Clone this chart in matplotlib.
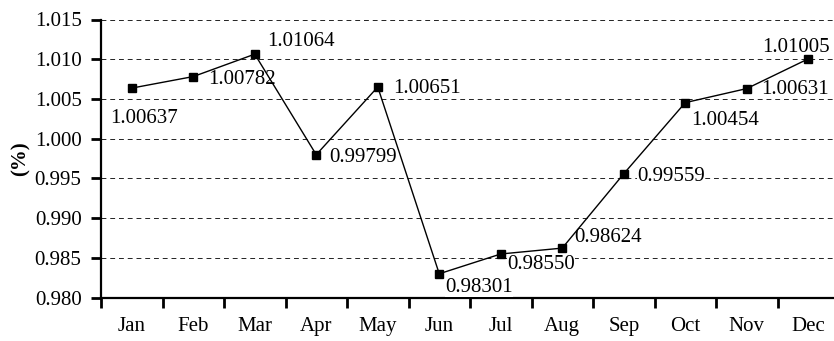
import matplotlib
matplotlib.use("Agg")
import matplotlib.pyplot as plt
import numpy as np

months = ["Jan", "Feb", "Mar", "Apr", "May", "Jun", "Jul", "Aug", "Sep", "Oct", "Nov", "Dec"]
values = [1.00637, 1.00782, 1.01064, 0.99799, 1.00651, 0.98301, 0.98550, 0.98624, 0.99559, 1.00454, 1.00631, 1.01005]
value_labels = ["1.00637", "1.00782", "1.01064", "0.99799", "1.00651", "0.98301", "0.98550", "0.98624", "0.99559", "1.00454", "1.00631", "1.01005"]
yticks = [0.980, 0.985, 0.990, 0.995, 1.000, 1.005, 1.010, 1.015]
ytick_labels = ["0.980", "0.985", "0.990", "0.995", "1.000", "1.005", "1.010", "1.015"]
y_label = "(%)"

# label offsets in pixels (dx, dy) from marker to left-center of text
offsets = [(-22, -30), (15, -3), (12, 13), (13, -3), (15, -2), (6, -14),
           (6, -11), (12, 11), (13, -3), (6, -18), (14, -1), (-46, 11)]

plt.rcParams['font.family'] = ['Liberation Serif', 'DejaVu Serif']
FS = 15

W, H = 834, 341
fig = plt.figure(figsize=(W / 100, H / 100), dpi=100)
left_px, right_px = 101, 839
top_px, bottom_px = 19.5, 297.7
ax = fig.add_axes([left_px / W, (H - bottom_px) / H, (right_px - left_px) / W, (bottom_px - top_px) / H])

x = np.arange(len(months))
ax.plot(x, values, color='black', lw=1.0, marker='s', markersize=5.5, zorder=4, clip_on=False)

for xi, v, lab, (dx, dy) in zip(x, values, value_labels, offsets):
    ax.annotate(lab, (xi, v), xytext=(dx, dy), textcoords='offset pixels',
                ha='left', va='center', fontsize=FS, zorder=3,
                bbox=dict(boxstyle='square,pad=0', fc='white', ec='none'),
                annotation_clip=False)

ax.set_xlim(-0.5, len(months) - 0.5)
ax.set_ylim(0.980, 1.015)
ax.set_yticks(yticks)
ax.set_yticklabels(ytick_labels, fontsize=FS)
ax.set_xticks(x)
ax.set_xticklabels(months, fontsize=FS)
ax.set_xticks(np.arange(len(months) + 1) - 0.5, minor=True)
ax.tick_params(axis='x', which='major', length=0, pad=14)
ax.tick_params(axis='x', which='minor', length=7, width=2, direction='out')
ax.tick_params(axis='y', which='major', length=7, width=2, direction='out', pad=7)

for s in ['top', 'right']:
    ax.spines[s].set_visible(False)
for s in ['left', 'bottom']:
    ax.spines[s].set_linewidth(1.6)

ax.yaxis.grid(True, linestyle=(0, (5, 4)), color='#222222', linewidth=0.7)
ax.set_axisbelow(True)
ax.set_ylabel(y_label, fontsize=FS, fontweight='bold', labelpad=3)

fig.savefig("out.png", dpi=100)
